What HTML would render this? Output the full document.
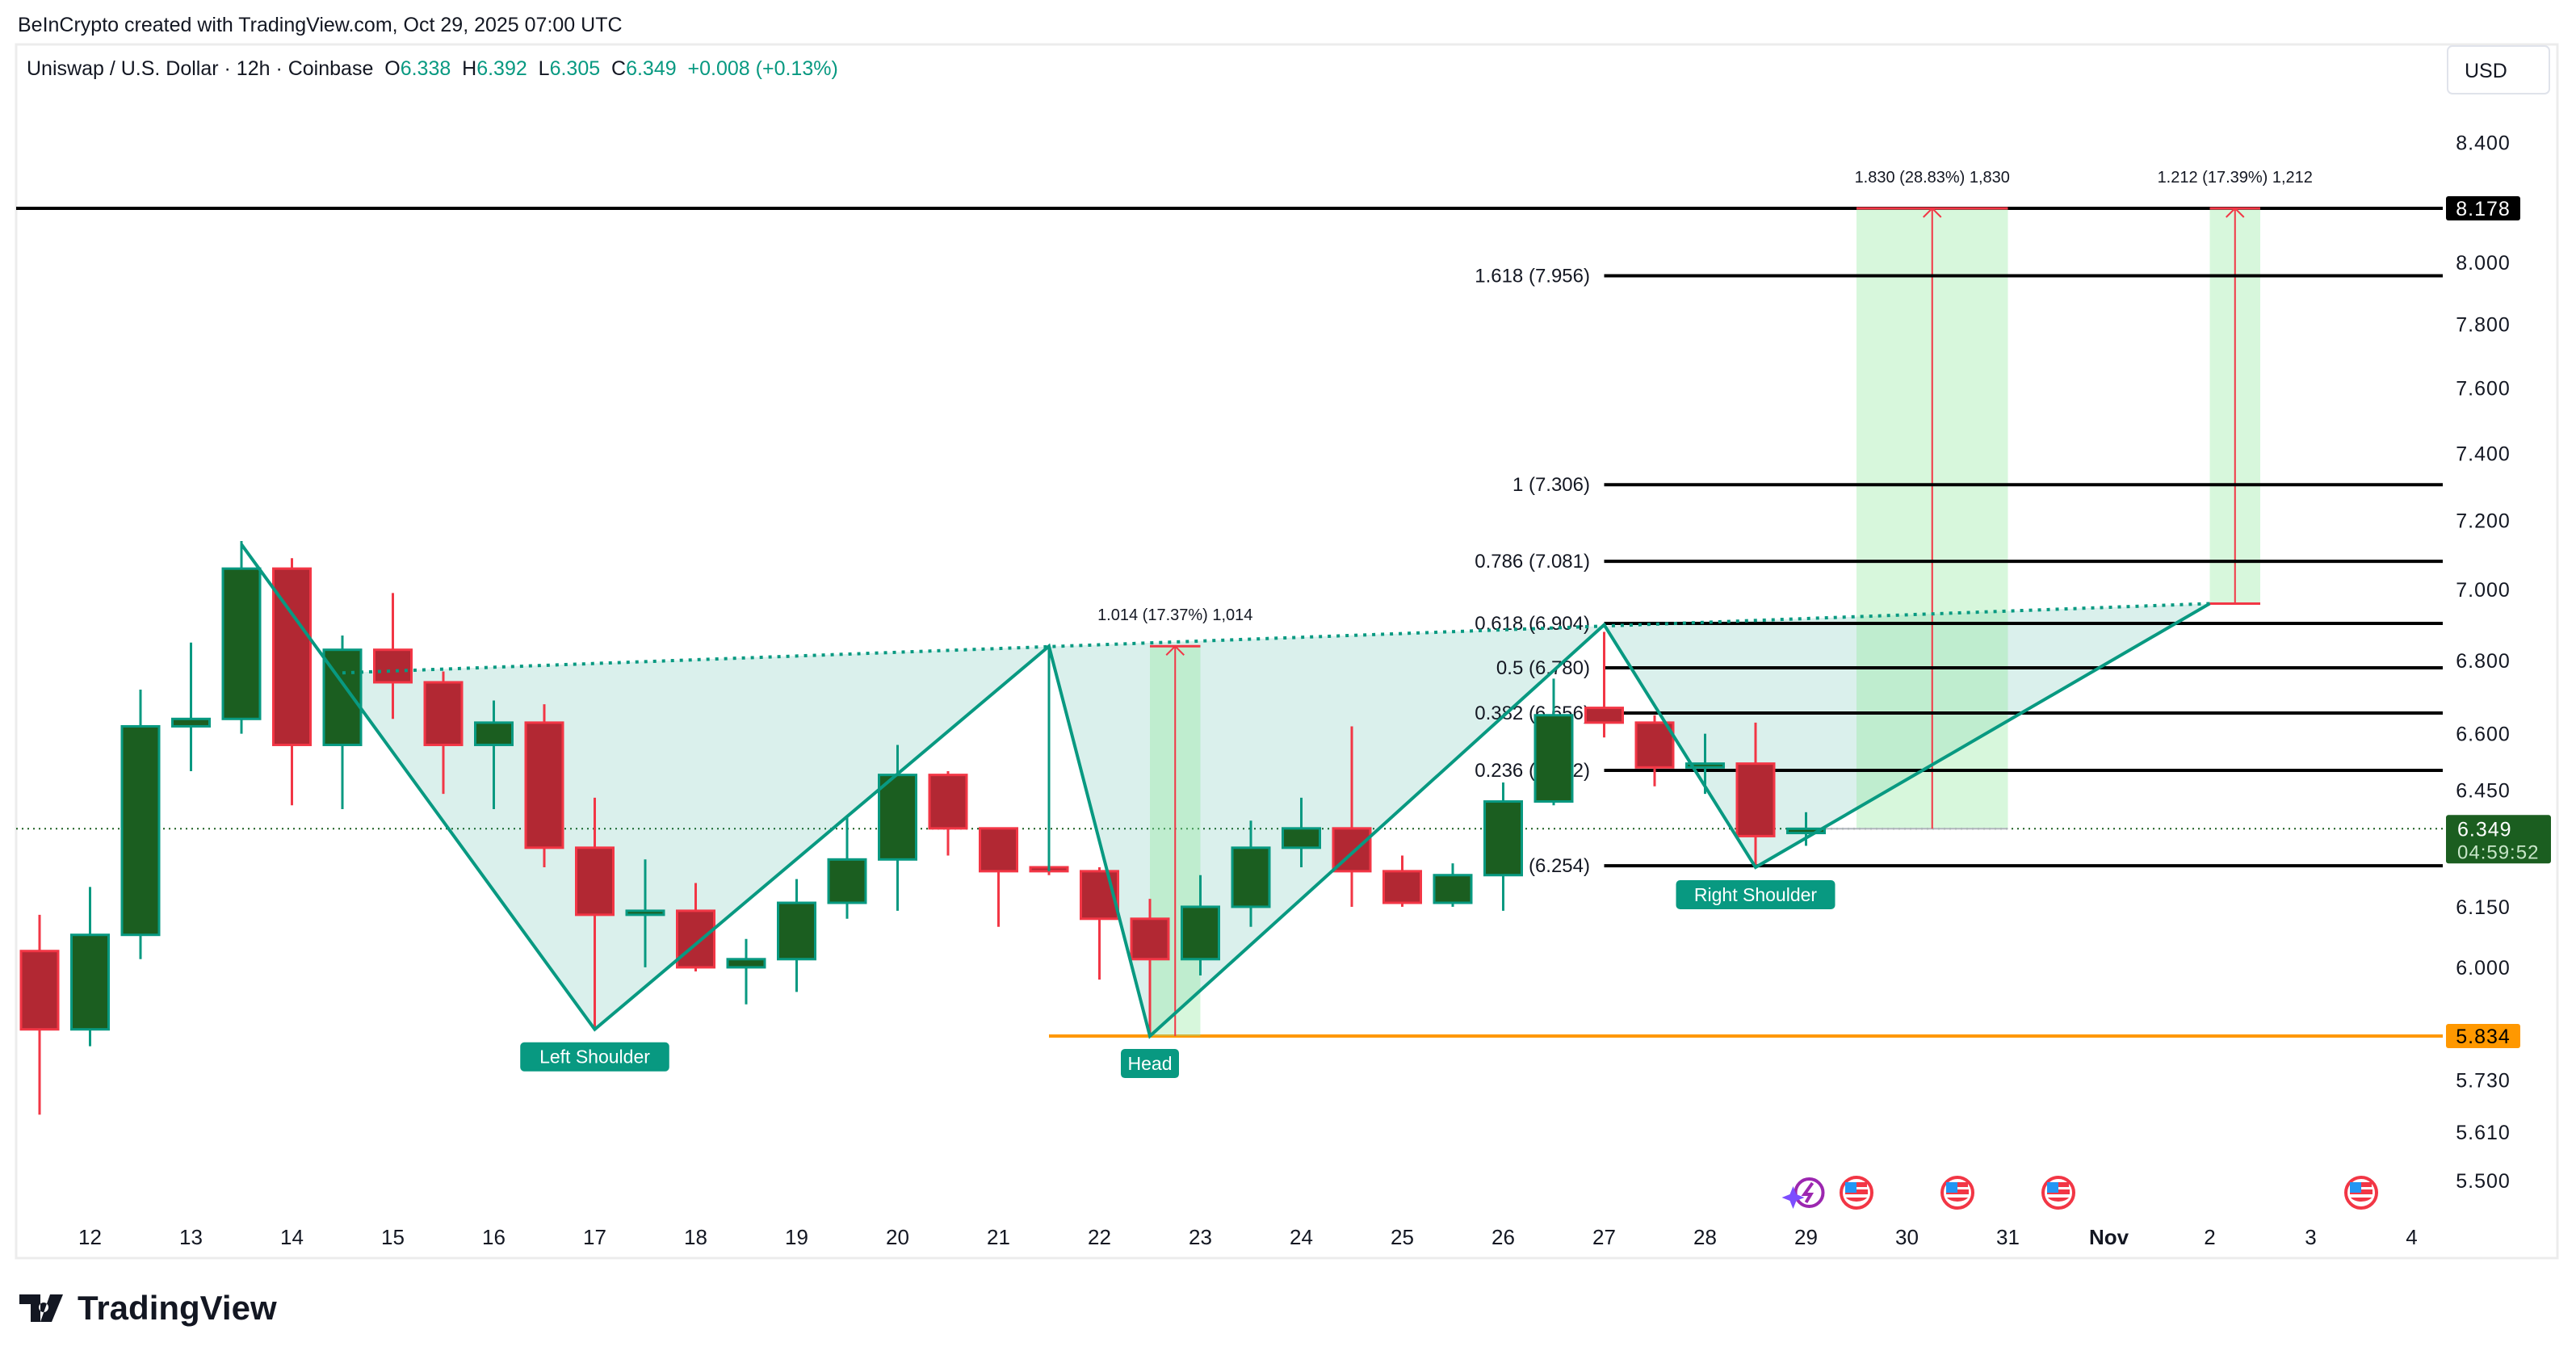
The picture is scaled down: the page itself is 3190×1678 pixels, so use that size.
<!DOCTYPE html>
<html><head><meta charset="utf-8"><style>
html,body{margin:0;padding:0;background:#fff;}
svg{display:block;font-family:"Liberation Sans",sans-serif;}
</style></head><body>
<svg id="c" width="3190" height="1678" viewBox="0 0 3190 1678">
<rect x="0" y="0" width="3190" height="1678" fill="#fff"/>
<text x="22" y="39" font-size="25" fill="#131722">BeInCrypto created with TradingView.com, Oct 29, 2025 07:00 UTC</text>
<rect x="20" y="55" width="3147" height="1503" fill="#fff" stroke="#ececec" stroke-width="3"/>
<g id="plot"></g>
<text x="33" y="93" font-size="25" fill="#131722" xml:space="preserve" style="white-space:pre">Uniswap / U.S. Dollar · 12h · Coinbase  O<tspan fill="#089981">6.338</tspan>  H<tspan fill="#089981">6.392</tspan>  L<tspan fill="#089981">6.305</tspan>  C<tspan fill="#089981">6.349</tspan>  <tspan fill="#089981">+0.008 (+0.13%)</tspan></text>
<rect x="3031" y="57" width="126" height="59" rx="6" fill="#fff" stroke="#e0e3eb" stroke-width="2"/>
<text x="3052" y="96" font-size="25" fill="#131722">USD</text>
<g>
<path d="M24 1603h26v34h-12v-22h-14z M54 1613a6 6 0 1 0 0.1 0z M62 1603h16l-14 34h-14z" fill="#131722"/>
<text x="96" y="1634" font-size="42" font-weight="bold" fill="#131722">TradingView</text>
</g>
</svg>
<script>
const candleOpen=[6.04,5.85,6.08,6.62,6.64,7.06,6.57,6.83,6.74,6.57,6.63,6.30,6.13,6.14,6.00,6.02,6.16,6.27,6.49,6.35,6.25,6.24,6.12,6.02,6.15,6.30,6.35,6.24,6.16,6.23,6.42,6.67,6.63,6.51,6.52,6.338];
const candleHigh=[6.13,6.20,6.72,6.85,7.14,7.09,6.87,6.99,6.77,6.69,6.68,6.43,6.27,6.21,6.07,6.22,6.38,6.57,6.50,6.35,6.27,6.25,6.17,6.23,6.37,6.43,6.62,6.28,6.26,6.47,6.75,6.88,6.65,6.60,6.63,6.392];
const candleLow=[5.65,5.81,6.02,6.50,6.60,6.41,6.40,6.64,6.44,6.40,6.25,5.85,6.00,5.99,5.91,5.94,6.12,6.14,6.28,6.10,6.23,5.97,5.84,5.98,6.10,6.25,6.15,6.15,6.15,6.14,6.41,6.59,6.46,6.44,6.25,6.305];
const candleClose=[5.85,6.08,6.62,6.64,7.06,6.57,6.83,6.74,6.57,6.63,6.30,6.13,6.14,6.00,6.02,6.16,6.27,6.49,6.35,6.24,6.24,6.12,6.02,6.15,6.30,6.35,6.24,6.16,6.23,6.42,6.65,6.63,6.51,6.52,6.33,6.349];
const priceTicks=[8.4,8.0,7.8,7.6,7.4,7.2,7.0,6.8,6.6,6.45,6.15,6.0,5.73,5.61,5.5];
const dayLabels=["12","13","14","15","16","17","18","19","20","21","22","23","24","25","26","27","28","29","30","31","Nov","2","3","4"];
const fibRatios=["1.618","1","0.786","0.618","0.5","0.382","0.236","0"];
const fibPrices=[7.956,7.306,7.081,6.904,6.780,6.656,6.502,6.254];
const patternIdx=[4,11,20,22,31,34,43];
const patternPrice=[7.13,5.85,6.84,5.834,6.90,6.25,6.96];
const necklineIdx=[6,43];
const necklinePrice=[6.766,6.96];
const lastPrice=6.349, resistance=8.178, support=5.834;
const targets=[{i0:22,i1:23,p0:5.834,p1:6.84,label:"1.014 (17.37%) 1,014"},{i0:36,i1:39,p0:6.349,p1:8.178,label:"1.830 (28.83%) 1,830"},{i0:43,i1:44,p0:6.96,p1:8.178,label:"1.212 (17.39%) 1,212"}];
const eventIdx=[35,36,38,40,46];

const NS="http://www.w3.org/2000/svg";
const g=document.getElementById('plot');
const X=i=>49+i*62.5;
const Y=p=>258+(Math.log(8.178)-Math.log(p))*3035;
const R=3025;
function el(t,a,parent){const e=document.createElementNS(NS,t);for(const k in a)e.setAttribute(k,a[k]);(parent||g).appendChild(e);return e;}

let e=el('line',{x1:20,x2:R,y1:Y(lastPrice),y2:Y(lastPrice),stroke:'#1b5e20','stroke-width':2,'stroke-dasharray':'2 5'});


e=el('line',{x1:20,x2:R,y1:Y(resistance),y2:Y(resistance),stroke:'#000','stroke-width':4});


e=el('line',{x1:X(20),x2:R,y1:Y(support),y2:Y(support),stroke:'#ff9800','stroke-width':4});



{
 const a=[X(patternIdx[0]),Y(patternPrice[0])],b=[X(patternIdx[1]),Y(patternPrice[1])];
 const nx=X(necklineIdx[0]);const ny0=Y(necklinePrice[0]),ny1=Y(necklinePrice[1]);const nx1=X(necklineIdx[1]);
 let best=a,bd=1e9;for(let k=0;k<=200;k++){const t=k/200;const px=a[0]+t*(b[0]-a[0]),py=a[1]+t*(b[1]-a[1]);const ly=ny0+(px-nx)*(ny1-ny0)/(nx1-nx);const d=Math.abs(py-ly);if(d<bd){bd=d;best=[px,py];}}
 let pts=[best];for(let k=1;k<patternIdx.length;k++)pts.push([X(patternIdx[k]),Y(patternPrice[k])]);
 e=el('polygon',{points:pts.map(p=>p.join(',')).join(' '),fill:'#089981','fill-opacity':0.15});
 
 
}
targets.forEach((t,k)=>{
 const x0=X(t.i0),x1=X(t.i1),y0=Y(t.p0),y1=Y(t.p1),xm=(x0+x1)/2;
 e=el('rect',{x:x0,y:y1,width:x1-x0,height:y0-y1,fill:'#8ce99a','fill-opacity':0.35});
 
 
 el('line',{x1:x0,x2:x1,y1:y1,y2:y1,stroke:'#f23645','stroke-width':3});
 if(k===1)el('line',{x1:X(35),x2:x1,y1:y0,y2:y0,stroke:'#b2b5be','stroke-width':2});
 if(k===2)el('line',{x1:x0,x2:x1,y1:y0,y2:y0,stroke:'#f23645','stroke-width':3});
 el('line',{x1:xm,x2:xm,y1:y0,y2:y1,stroke:'#f23645','stroke-width':2});
 el('path',{d:`M${xm-11} ${y1+11}L${xm} ${y1}L${xm+11} ${y1+11}`,stroke:'#f23645','stroke-width':2,fill:'none'});
 e=el('text',{x:xm,y:y1-32,'font-size':20,'text-anchor':'middle',fill:'#131722'});e.textContent=t.label;
 
 
});
fibRatios.forEach((r,k)=>{
 const y=Y(fibPrices[k]);
 e=el('line',{x1:X(31),x2:R,y1:y,y2:y,stroke:'#000','stroke-width':4});
 
 
 e=el('text',{x:1969,y:y+8,'font-size':24,'text-anchor':'end',fill:'#131722'});e.textContent=r+' ('+fibPrices[k].toFixed(3)+')';
 
 
});
candleOpen.forEach((o,i)=>{
 const c=candleClose[i],up=c>=o,x=X(i);
 const grp=el('g',{});
 
 
 const st=up?'#089981':'#f23645',fl=up?'#1b5e20':'#b22833';
 el('line',{x1:x,x2:x,y1:Y(candleHigh[i]),y2:Y(candleLow[i]),stroke:st,'stroke-width':3},grp);
 const yt=Y(Math.max(o,c)),yb=Y(Math.min(o,c));
 el('rect',{x:x-23,y:yt,width:46,height:Math.max(yb-yt,4),fill:fl,stroke:st,'stroke-width':3},grp);
});
e=el('line',{x1:X(necklineIdx[0]),y1:Y(necklinePrice[0]),x2:X(necklineIdx[1]),y2:Y(necklinePrice[1]),stroke:'#089981','stroke-width':4,'stroke-dasharray':'4 7'});


e=el('polyline',{points:patternIdx.map((ix,k)=>X(ix)+','+Y(patternPrice[k])).join(' '),fill:'none',stroke:'#089981','stroke-width':4});


e=el('line',{x1:X(patternIdx[2]),x2:X(patternIdx[2]),y1:Y(patternPrice[2]),y2:Y(6.24),stroke:'#089981','stroke-width':3});


[["Left Shoulder",1,"left-shoulder-label"],["Head",3,"head-label"],["Right Shoulder",5,"right-shoulder-label"]].forEach(([t,k,n])=>{
 const x=X(patternIdx[k]),y=Y(patternPrice[k])+34;const w=t.length*12.5+22;
 const grp=el('g',{});
 
 
 el('rect',{x:x-w/2,y:y-18,width:w,height:36,rx:5,fill:'#089981'},grp);
 const tx=el('text',{x:x,y:y+8,'font-size':23,'text-anchor':'middle',fill:'#fff'},grp);tx.textContent=t;
});
priceTicks.forEach(p=>{
 e=el('text',{x:3075,y:Y(p)+9,'font-size':25,'text-anchor':'middle',fill:'#131722','letter-spacing':'1'});e.textContent=p.toFixed(3);
 
 
});
function tag(p,bg,fg,txt,w,name){const y=Y(p);const grp=el('g',{});
 
 
 el('rect',{x:3029,y:y-15,width:w,height:30,rx:3,fill:bg},grp);
 const tx=el('text',{x:3075,y:y+9,'font-size':25,'text-anchor':'middle',fill:fg,'letter-spacing':'1'},grp);tx.textContent=txt;}
tag(resistance,'#000','#fff','8.178',92,'resistance-tag');
tag(support,'#ff9800','#000','5.834',92,'support-tag');
{
 const y=Y(lastPrice);const grp=el('g',{});
 
 
 el('rect',{x:3029,y:y-17,width:130,height:60,rx:3,fill:'#1b5e20'},grp);
 let t=el('text',{x:3043,y:y+9,'font-size':25,fill:'#fff','letter-spacing':'1'},grp);t.textContent='6.349';
 t=el('text',{x:3043,y:y+37,'font-size':24,fill:'#c8e6c9','letter-spacing':'1'},grp);t.textContent='04:59:52';
}
dayLabels.forEach((d,k)=>{
 e=el('text',{x:X(1+2*k),y:1541,'font-size':26,'text-anchor':'middle',fill:'#131722','font-weight':d==='Nov'?'bold':'normal'});e.textContent=d;
 
 
});
eventIdx.forEach((ix,k)=>{
 const x=X(ix),y=1477;const grp=el('g',{});
 
 
 if(k===0){el('circle',{cx:x+4,cy:y,r:17,fill:'#fff',stroke:'#9c27b0','stroke-width':4},grp);el('path',{d:`M${x+8} ${y-12}L${x-2} ${y+2}H${x+6}L${x} ${y+12}`,stroke:'#9c27b0','stroke-width':4,fill:'none'},grp);el('path',{d:`M${x-20} ${y+2}l4 -10l4 10l10 4l-10 4l-4 10l-4 -10l-10 -4z`,fill:'#7c4dff'},grp);}
 else{el('circle',{cx:x,cy:y,r:19,fill:'#fff',stroke:'#f23645','stroke-width':4},grp);el('rect',{x:x-14,y:y-4,width:28,height:6,fill:'#f23645'},grp);el('path',{d:`M${x-13} ${y+6}h26a14 8 0 0 1 -26 0z`,fill:'#f23645'},grp);el('rect',{x:x-14,y:y-13,width:14,height:13,fill:'#2196f3'},grp);el('rect',{x:x,y:y-13,width:13,height:6,fill:'#f23645'},grp);}
});
</script>
</body></html>
